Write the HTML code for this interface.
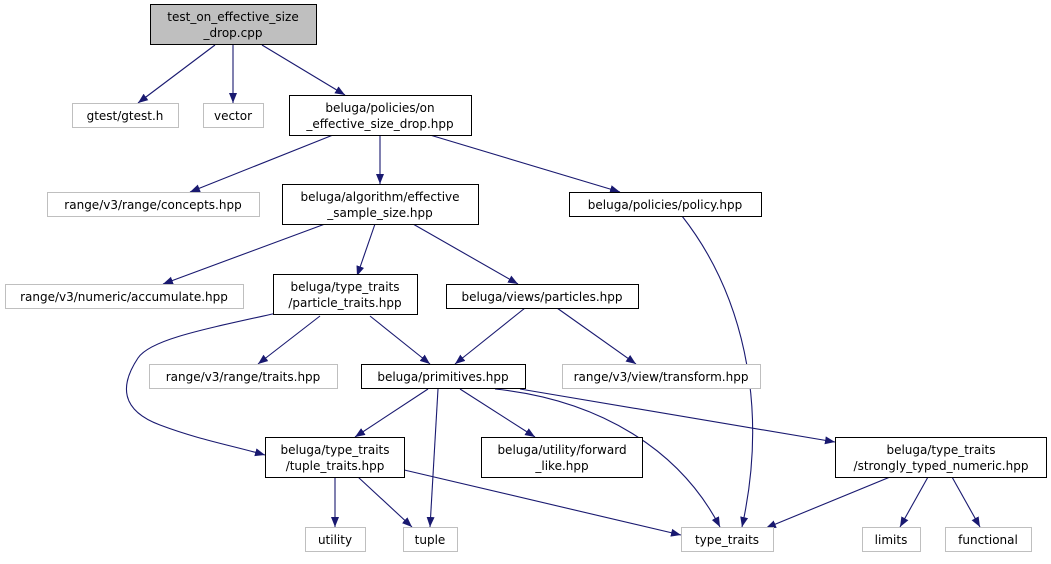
<!DOCTYPE html>
<html><head><style>
html,body{margin:0;padding:0;background:#fff;}
svg text{font-family:"DejaVu Sans","Liberation Sans",sans-serif;font-size:12px;text-anchor:middle;fill:#000;}
</style></head><body>
<svg width="1051" height="559" viewBox="0 0 1051 559" xmlns="http://www.w3.org/2000/svg">
<defs><marker id="a" viewBox="0 0 10 10" refX="10" refY="5" markerWidth="10" markerHeight="10" markerUnits="userSpaceOnUse" orient="auto"><path d="M0,1 L10,5 L0,9 z" fill="#191970"/></marker></defs>
<g fill="none" stroke="#191970" stroke-width="1.1" marker-end="url(#a)">
<path d="M215,45 L138,103"/>
<path d="M233,45 L233,103"/>
<path d="M262,45 L345,95"/>
<path d="M333,135 L190,192"/>
<path d="M380,135 L380,184"/>
<path d="M430,135 L620,192"/>
<path d="M325,224 L163,284"/>
<path d="M375,224 L357,276"/>
<path d="M413,224 L518,284"/>
<path d="M320,316 L258,364"/>
<path d="M370,316 L430,364"/>
<path d="M525,308 L455,364"/>
<path d="M557,308 L636,364"/>
<path d="M277,313 C200,330 150,340 138,358 C120,385 120,410 160,425 C200,440 230,445 265,455"/>
<path d="M428,389 L355,437"/>
<path d="M438,389 L430,527"/>
<path d="M460,389 L535,437"/>
<path d="M495,389 C600,400 680,450 720,527"/>
<path d="M520,389 L835,442"/>
<path d="M682,216 C740,290 770,400 742,527"/>
<path d="M335,477 L335,527"/>
<path d="M358,477 L412,527"/>
<path d="M400,469 L681,535"/>
<path d="M890,477 L766,528"/>
<path d="M928,477 L900,527"/>
<path d="M952,477 L980,527"/>
</g>
<g stroke-width="1">
<rect x="150.5" y="4.5" width="166" height="40" fill="#bfbfbf" stroke="#000"/>
<text x="233" y="21">test_on_effective_size</text><text x="233" y="37">_drop.cpp</text>
<rect x="72.5" y="103.5" width="106" height="24" fill="#fff" stroke="#bfbfbf"/><text x="125" y="120">gtest/gtest.h</text>
<rect x="203.5" y="103.5" width="60" height="24" fill="#fff" stroke="#bfbfbf"/><text x="233" y="120">vector</text>
<rect x="289.5" y="95.5" width="182" height="40" fill="#fff" stroke="#000"/>
<text x="380" y="112">beluga/policies/on</text><text x="380" y="128">_effective_size_drop.hpp</text>
<rect x="47.5" y="192.5" width="212" height="24" fill="#fff" stroke="#bfbfbf"/><text x="153" y="209">range/v3/range/concepts.hpp</text>
<rect x="282.5" y="184.5" width="196" height="40" fill="#fff" stroke="#000"/>
<text x="380" y="201">beluga/algorithm/effective</text><text x="380" y="217">_sample_size.hpp</text>
<rect x="569.5" y="192.5" width="192" height="24" fill="#fff" stroke="#000"/><text x="665" y="209">beluga/policies/policy.hpp</text>
<rect x="5.5" y="284.5" width="238" height="24" fill="#fff" stroke="#bfbfbf"/><text x="124" y="301">range/v3/numeric/accumulate.hpp</text>
<rect x="273.5" y="274.5" width="144" height="40" fill="#fff" stroke="#000"/>
<text x="345" y="291">beluga/type_traits</text><text x="345" y="307">/particle_traits.hpp</text>
<rect x="446.5" y="284.5" width="192" height="24" fill="#fff" stroke="#000"/><text x="542" y="301">beluga/views/particles.hpp</text>
<rect x="149.5" y="364.5" width="188" height="24" fill="#fff" stroke="#bfbfbf"/><text x="243" y="381">range/v3/range/traits.hpp</text>
<rect x="361.5" y="364.5" width="164" height="24" fill="#fff" stroke="#000"/><text x="443" y="381">beluga/primitives.hpp</text>
<rect x="562.5" y="364.5" width="198" height="24" fill="#fff" stroke="#bfbfbf"/><text x="661" y="381">range/v3/view/transform.hpp</text>
<rect x="265.5" y="437.5" width="139" height="40" fill="#fff" stroke="#000"/>
<text x="335" y="454">beluga/type_traits</text><text x="335" y="470">/tuple_traits.hpp</text>
<rect x="481.5" y="437.5" width="161" height="40" fill="#fff" stroke="#000"/>
<text x="562" y="454">beluga/utility/forward</text><text x="562" y="470">_like.hpp</text>
<rect x="835.5" y="437.5" width="211" height="40" fill="#fff" stroke="#000"/>
<text x="941" y="454">beluga/type_traits</text><text x="941" y="470">/strongly_typed_numeric.hpp</text>
<rect x="305.5" y="527.5" width="60" height="24" fill="#fff" stroke="#bfbfbf"/><text x="335" y="544">utility</text>
<rect x="403.5" y="527.5" width="54" height="24" fill="#fff" stroke="#bfbfbf"/><text x="430" y="544">tuple</text>
<rect x="681.5" y="527.5" width="92" height="24" fill="#fff" stroke="#bfbfbf"/><text x="727" y="544">type_traits</text>
<rect x="862.5" y="527.5" width="58" height="24" fill="#fff" stroke="#bfbfbf"/><text x="891" y="544">limits</text>
<rect x="945.5" y="527.5" width="86" height="24" fill="#fff" stroke="#bfbfbf"/><text x="988" y="544">functional</text>
</g>
</svg>
</body></html>
